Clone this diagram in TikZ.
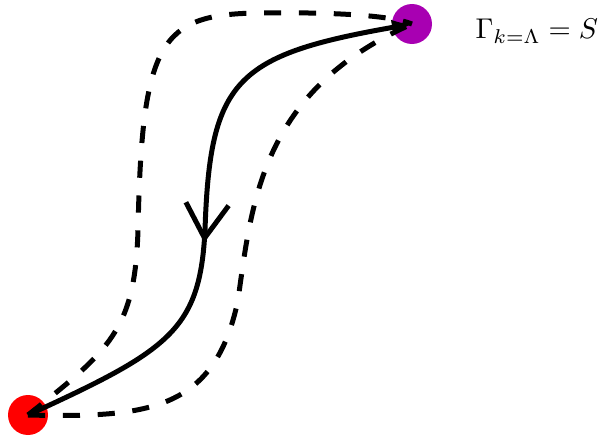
\documentclass[tikz,border=0pt]{standalone}
\usepackage{amsmath,amssymb}
\usepackage{tikz}
\usetikzlibrary{arrows.meta,decorations.markings}

\definecolor{startviolet}{RGB}{168,0,178}

\tikzset{
  trail/.style={line width=1.75pt},
  dashtrail/.style={trail, dash pattern=on 6pt off 6.2pt},
  midbarb/.style={decoration={markings,
      mark=at position #1 with {\arrowreversed{Straight Barb[length=12pt,width=15pt]}}},
    postaction=decorate}
}

\begin{document}
\begin{tikzpicture}[x=0.35pt,y=-0.35pt]
  \useasboundingbox (0,0) rectangle (601,438);

  % end points of the flow
  \coordinate (Lam) at (412,24);
  \coordinate (Zero) at (28,415);
  \fill[red] (Zero) circle (20);
  \fill[startviolet] (Lam) circle (20);

  \node[anchor=base west,inner sep=0pt] (lbl) at (475,39) {$\Gamma_{k=\Lambda} = S$};

  % two other trajectories
  \draw[dashtrail] (Zero) .. controls (110,350) and (135,330) .. (138,230)
    .. controls (142,40) and (160,14) .. (260,13)
    .. controls (330,12) and (390,15) .. (Lam);
  \draw[dashtrail] (Zero) .. controls (150,418) and (215,410) .. (238,300)
    .. controls (252,200) and (262,90) .. (Lam);

  % actual flow
  \draw[trail,-{Latex[length=7pt,width=5.6pt]},midbarb=0.43]
    (Zero) .. controls (170,350) and (200,330) .. (205,230)
    .. controls (210,80) and (235,55) .. (Lam);
\end{tikzpicture}
\end{document}
